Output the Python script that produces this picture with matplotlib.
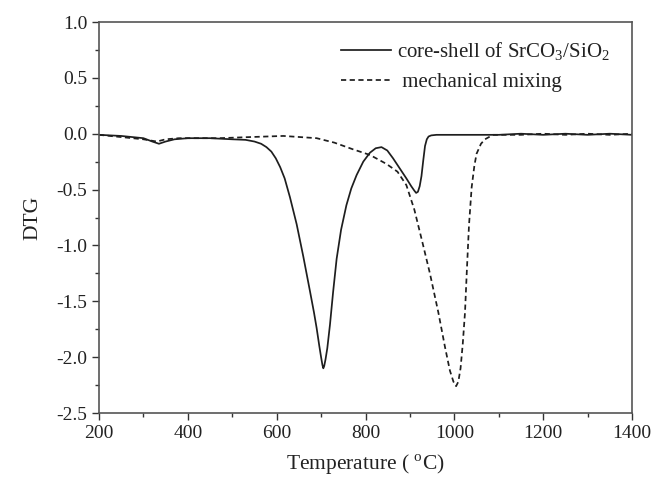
import matplotlib.pyplot as plt
import matplotlib as mpl
from matplotlib.ticker import MultipleLocator

temp_cs = [200, 250, 300, 320, 335, 350, 370, 400, 450, 500, 530, 550, 565, 577,
           588, 598, 608, 618, 630, 645, 660, 675, 684, 690, 696, 700, 703, 705,
           707, 710, 714, 720, 727, 735, 745, 757, 768, 780, 795, 810, 823, 836,
           849, 862, 877, 892, 903, 910, 914, 918, 922, 926, 930, 934, 938, 942,
           948, 960, 980, 1000, 1050, 1100, 1150, 1200, 1250, 1300, 1350, 1400]
dtg_cs = [-0.01, -0.02, -0.04, -0.07, -0.09, -0.07, -0.05, -0.04, -0.04, -0.05,
          -0.055, -0.07, -0.09, -0.12, -0.16, -0.22, -0.30, -0.40, -0.57, -0.81,
          -1.10, -1.41, -1.60, -1.74, -1.90, -2.00, -2.07, -2.10, -2.08, -2.02,
          -1.92, -1.71, -1.42, -1.12, -0.86, -0.64, -0.49, -0.37, -0.25, -0.17,
          -0.13, -0.12, -0.15, -0.22, -0.31, -0.40, -0.47, -0.51, -0.53, -0.52,
          -0.47, -0.38, -0.24, -0.11, -0.05, -0.025, -0.015, -0.01, -0.01, -0.01,
          -0.01, -0.01, 0.0, -0.01, 0.0, -0.01, 0.0, -0.01]

temp_mm = [200, 250, 300, 330, 350, 380, 420, 470, 540, 615, 690, 730, 772, 810,
           847, 872, 892, 910, 928, 945, 964, 979, 990, 998, 1004, 1009, 1014,
           1019, 1024, 1028, 1033, 1039, 1045, 1050, 1060, 1069, 1087, 1110, 1150,
           1200, 1250, 1300, 1350, 1400]
dtg_mm = [-0.01, -0.03, -0.05, -0.07, -0.05, -0.04, -0.04, -0.04, -0.03, -0.02,
          -0.04, -0.08, -0.14, -0.19, -0.27, -0.34, -0.46, -0.68, -0.97, -1.25,
          -1.60, -1.91, -2.12, -2.22, -2.26, -2.22, -2.10, -1.88, -1.60, -1.24,
          -0.82, -0.48, -0.29, -0.18, -0.09, -0.05, -0.01, -0.01, -0.01, 0.0,
          -0.01, 0.0, -0.01, 0.0]

mpl.rcParams['font.family'] = 'Liberation Serif'
mpl.rcParams['mathtext.fontset'] = 'custom'
mpl.rcParams['mathtext.rm'] = 'Liberation Serif'

fig = plt.figure(figsize=(6.52, 4.83), dpi=100)
ax = fig.add_axes([99 / 652, 1 - 413 / 483, 533 / 652, 391 / 483])

color = '#1e1e1e'
ax.plot(temp_cs, dtg_cs, color=color, lw=1.25, ls='-',
        label='core-shell of SrCO$_3$/SiO$_2$')
ax.plot(temp_mm, dtg_mm, color=color, lw=1.25, ls=(0, (3, 2)),
        label=' mechanical mixing')

ax.set_xlim(200, 1400)
ax.set_ylim(-2.5, 1.0)
ax.xaxis.set_major_locator(MultipleLocator(200))
ax.xaxis.set_minor_locator(MultipleLocator(100))
ax.yaxis.set_major_locator(MultipleLocator(0.5))
ax.yaxis.set_minor_locator(MultipleLocator(0.25))
ax.yaxis.set_major_formatter(mpl.ticker.FormatStrFormatter('%.1f'))
ax.tick_params(which='major', direction='out', length=5, width=1, labelsize=14,
               colors='#333333', labelcolor='#222222')
ax.tick_params(which='minor', direction='out', length=3, width=1, colors='#333333')
for s in ax.spines.values():
    s.set_color('#555555')
    s.set_linewidth(1.2)

ax.set_xlabel('Temperature ( $^{\\mathrm{o}}$C)', fontsize=15.5, color='#222222',
              labelpad=8)
ax.set_ylabel('DTG', fontsize=15.5, color='#222222', labelpad=10)

ax.legend(loc='upper left', bbox_to_anchor=(0.43, 0.985), frameon=False,
          fontsize=15, handlelength=2.4, handletextpad=0.3, labelspacing=0.45,
          labelcolor='#222222', borderaxespad=0.2)

fig.savefig('out.png', dpi=100)
